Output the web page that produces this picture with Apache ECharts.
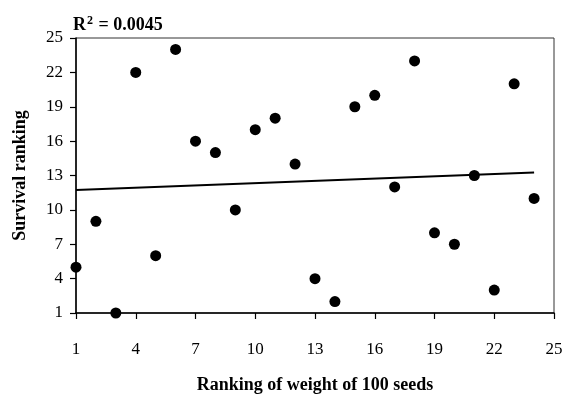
<!DOCTYPE html>
<html><head><meta charset="utf-8">
<script src="https://cdn.jsdelivr.net/npm/echarts@6/dist/echarts.min.js"></script>
<style>html,body{margin:0;padding:0;background:#fff;}#c{width:562px;height:397px;}</style>
</head><body><div id="c"></div>
<script>
var weightRank = [1,2,3,4,5,6,7,8,9,10,11,12,13,14,15,16,17,18,19,20,21,22,23,24];
var survivalRank = [5,9,1,22,6,24,16,15,10,17,18,14,4,2,19,20,12,23,8,7,13,3,21,11];
var axisTicks = [1,4,7,10,13,16,19,22,25];

// least squares trend line from the data
var n = weightRank.length, mx = 0, my = 0;
for (var i = 0; i < n; i++) { mx += weightRank[i]; my += survivalRank[i]; }
mx /= n; my /= n;
var sxy = 0, sxx = 0;
for (var i = 0; i < n; i++) { sxy += (weightRank[i]-mx)*(survivalRank[i]-my); sxx += (weightRank[i]-mx)*(weightRank[i]-mx); }
var slope = sxy / sxx, icpt = my - slope*mx;
var x0 = weightRank[0], x1 = weightRank[n-1];
var trend = [[x0, icpt + slope*x0], [x1, icpt + slope*x1]];

var pts = weightRank.map(function(x, i){ return [x, survivalRank[i]]; });
var font = '"Liberation Serif", "DejaVu Serif", serif';
var chart = echarts.init(document.getElementById('c'));
chart.setOption({
  animation: false,
  backgroundColor: '#fff',
  title: {
    text: '{b|R}{s|2}{b| = 0.0045}',
    left: 68, top: 9,
    textStyle: { rich: {
      b: { fontFamily: font, fontWeight: 'bold', fontSize: 18, color: '#000', verticalAlign: 'bottom', lineHeight: 20 },
      s: { fontFamily: font, fontWeight: 'bold', fontSize: 12, color: '#000', verticalAlign: 'top', lineHeight: 12, padding: [1,1,7,1] }
    }}
  },
  grid: { left: 76, right: 8, top: 38, bottom: 84, outerBoundsMode: 'none', containLabel: false,
    show: true, borderColor: '#333', borderWidth: 1, backgroundColor: 'transparent' },
  xAxis: {
    type: 'value', min: 1, max: 25, interval: 3,
    name: 'Ranking of weight of 100 seeds', nameLocation: 'middle', nameGap: 63,
    nameTextStyle: { fontFamily: font, fontWeight: 'bold', fontSize: 18, color: '#000' },
    axisLine: { show: true, lineStyle: { color: '#000', width: 1.5 } },
    axisTick: { show: true, length: 6, lineStyle: { color: '#000', width: 1.2 } },
    axisLabel: { margin: 28, fontFamily: font, fontSize: 17, color: '#000',
      formatter: function(v){ return axisTicks.indexOf(v) >= 0 ? String(v) : ''; } },
    splitLine: { show: false }
  },
  yAxis: {
    type: 'value', min: 1, max: 25, interval: 3,
    name: 'Survival ranking', nameLocation: 'middle', nameGap: 47, nameRotate: 90,
    nameTextStyle: { fontFamily: font, fontWeight: 'bold', fontSize: 18, color: '#000' },
    axisLine: { show: true, lineStyle: { color: '#000', width: 1.5 } },
    axisTick: { show: true, length: 6, lineStyle: { color: '#000', width: 1.2 } },
    axisLabel: { margin: 13, fontFamily: font, fontSize: 17, color: '#000',
      formatter: function(v){ return axisTicks.indexOf(v) >= 0 ? String(v) : ''; } },
    splitLine: { show: false }
  },
  series: [
    { type: 'line', data: trend, symbol: 'none', lineStyle: { color: '#000', width: 2 }, z: 2 },
    { type: 'scatter', data: pts, symbol: 'circle', symbolSize: 11, itemStyle: { color: '#000', opacity: 1 }, z: 3, clip: false }
  ]
});
</script></body></html>
